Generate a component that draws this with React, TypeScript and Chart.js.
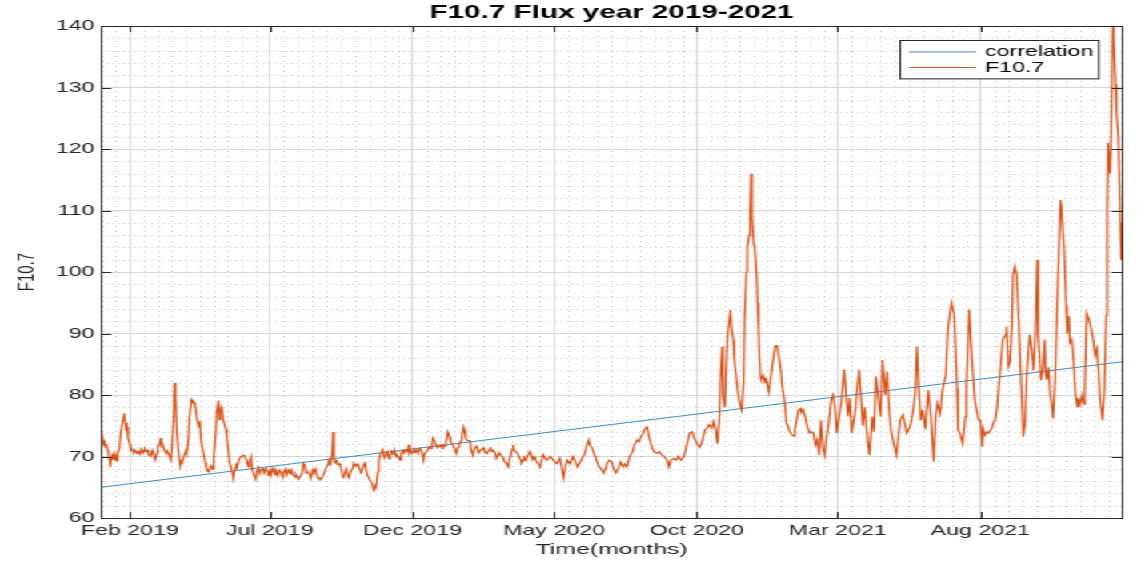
import React, { useEffect, useRef } from 'react';
import { Chart, registerables } from 'chart.js';

Chart.register(...registerables);

// ---------------- data ----------------
// x values are day offsets from 1 Jan 2019
const X_MIN = 0;
const X_MAX = 1095;
const xTickDays = [31, 181, 334, 486, 639, 790, 943];
const xTickLabels = ['Feb 2019', 'Jul 2019', 'Dec 2019', 'May 2020', 'Oct 2020', 'Mar 2021', 'Aug 2021'];
const yTickValues = [60, 70, 80, 90, 100, 110, 120, 130, 140];

const corrDays = [0, 1095];
const corrValues = [65.0, 85.4];

const f107_2019: [number, number][] = [
  [0,75.0],[2,72.5],[3,71.8],[4,72.3],[5,71.5],[6,72.0],[7,71.0],[8,70.8],[10,68.3],[11,69.8],
  [12,70.2],[13,69.5],[14,70.3],[15,69.4],[16,70.0],[17,69.3],[18,70.5],[20,71.5],[21,73.5],[23,75.5],
  [25,77.0],[26,75.5],[27,74.2],[28,74.8],[29,73.0],[31,72.0],[32,71.0],[34,71.2],[35,70.5],[37,71.0],
  [39,70.5],[40,70.8],[42,70.4],[43,71.2],[45,70.6],[47,71.3],[48,70.8],[50,71.0],[51,70.3],[53,70.0],
  [55,71.0],[56,70.6],[58,69.4],[60,70.5],[61,71.8],[63,72.0],[64,73.0],[65,71.5],[66,72.0],[68,71.0],
  [70,70.5],[71,70.9],[73,70.3],[75,69.4],[76,71.0],[78,76.0],[79,82.0],[80,80.0],[81,75.0],[83,71.0],
  [85,68.5],[86,69.2],[87,69.0],[89,70.0],[91,70.9],[92,70.5],[94,73.0],[95,76.5],[97,79.1],[98,78.7],
  [99,79.0],[100,78.8],[101,78.0],[102,77.5],[103,76.0],[105,74.8],[106,75.8],[107,73.5],[108,72.0],[110,70.5],
  [112,69.0],[113,68.0],[115,67.5],[116,67.8],[118,68.5],[120,67.9],[121,70.0],[123,73.5],[124,77.0],[126,79.1],
  [127,76.0],[128,77.0],[129,78.0],[130,77.5],[131,76.0],[132,75.5],[134,74.5],[135,73.0],[137,70.5],[138,69.0],
  [140,68.0],[142,66.4],[143,67.5],[145,68.6],[146,68.2],[148,69.5],[150,70.0],[151,70.0],[153,70.2],[154,70.0],
  [156,69.5],[158,68.3],[159,69.0],[161,70.0],[162,68.0],[164,67.0],[166,66.3],[167,67.5],[169,68.2],[170,67.2],
  [172,67.9],[174,68.0],[175,67.3],[177,68.1],[179,67.5],[180,66.8],[182,67.8],[183,67.2],[185,68.1],[187,67.0],
  [188,67.6],[190,66.9],[191,67.8],[193,67.5],[195,66.6],[196,67.5],[198,68.0],[199,67.0],[201,67.8],[203,67.2],
  [204,68.0],[206,67.0],[208,66.7],[209,67.1],[211,66.5],[212,66.4],[214,66.8],[216,67.5],[217,68.9],[219,68.5],
  [220,67.3],[222,67.5],[224,67.0],[225,66.5],[227,67.8],[228,67.5],[230,68.0],[232,66.8],[233,66.5],[235,66.5],
  [236,66.4],[238,66.8],[240,67.5],[241,68.1],[243,68.5],[245,69.4],[246,68.5],[248,70.5],[249,74.0],[250,70.0],
  [251,69.0],[253,69.3],[254,68.7],[256,68.8],[257,68.5],[259,67.0],[260,66.5],[262,67.5],[263,68.0],[265,66.8],
  [266,66.5],[268,67.6],[270,68.1],[271,68.9],[273,68.4],[275,68.8],[276,68.6],[278,67.8],[279,67.2],[281,68.3],
  [283,68.9],[284,68.0],[286,66.8],[287,66.6],[289,66.0],[291,65.6],[292,64.8],[293,64.3],[294,65.2],[295,65.0],
  [297,67.5],[298,69.4],[300,70.5],[301,70.8],[302,71.1],[304,69.8],[306,70.5],[307,70.8],[309,69.6],[310,70.2],
  [312,70.9],[314,70.3],[315,70.9],[317,70.0],[318,70.2],[321,69.4],[322,70.5],[324,71.0],[325,70.6],[327,71.1],
  [329,70.8],[330,71.9],[331,70.6],[332,71.0],[334,70.5],[336,71.2],[337,70.7],[339,71.0],[340,70.5],[342,71.3],
  [344,70.8],[346,69.4],[347,70.5],[349,70.8],[351,71.2],[352,71.6],[354,71.3],[355,72.0],[356,73.0],[358,72.5],
  [359,71.9],[361,71.4],[362,71.6],[364,71.9],
];

const f107_2020: [number, number][] = [
  [366,71.3],[367,71.9],[369,71.7],[370,72.3],[372,74.0],[374,73.2],[375,72.3],[377,72.0],[379,71.3],[380,71.1],
  [381,70.5],[383,71.5],[384,72.0],[386,72.5],[387,73.3],[389,74.8],[390,74.3],[391,73.0],[393,72.6],[395,72.6],
  [396,72.1],[397,71.0],[399,70.2],[400,71.0],[402,71.6],[403,71.8],[405,70.6],[406,70.9],[408,71.1],[410,71.4],
  [411,71.0],[413,70.7],[414,70.5],[416,71.0],[418,71.4],[419,70.8],[421,71.0],[423,70.5],[424,69.7],[426,70.3],
  [427,70.6],[429,70.2],[431,69.8],[432,69.3],[434,69.0],[435,68.8],[437,68.3],[438,69.5],[440,70.5],[441,71.2],
  [442,71.9],[443,71.0],[445,70.8],[447,70.5],[448,70.0],[450,69.5],[451,68.9],[453,69.4],[454,69.8],[456,69.4],
  [457,70.0],[459,70.5],[460,70.8],[462,70.0],[463,69.5],[465,69.9],[466,69.4],[468,69.0],[470,68.6],[471,68.3],
  [474,70.3],[478,69.4],[482,70.0],[485,69.4],[489,68.8],[492,69.7],[494,68.3],[496,66.5],[498,68.3],[500,69.4],
  [503,68.8],[506,70.0],[508,69.4],[511,68.3],[514,69.1],[517,70.0],[519,70.5],[521,71.9],[523,72.7],[524,71.9],
  [526,71.6],[528,70.8],[530,70.0],[532,69.1],[534,68.4],[537,67.8],[539,67.3],[541,68.1],[542,68.8],[545,69.4],
  [548,69.1],[549,68.3],[552,67.3],[555,68.1],[557,69.1],[560,68.3],[562,68.8],[564,68.3],[567,70.0],[570,70.8],
  [572,71.9],[575,72.7],[577,72.4],[579,73.3],[581,73.6],[583,74.4],[585,74.8],[586,74.4],[588,73.0],[591,71.4],
  [593,70.8],[596,70.5],[599,70.8],[601,70.3],[604,70.0],[607,69.4],[609,68.3],[611,69.4],[614,69.7],[617,69.4],
  [619,70.0],[622,69.4],[625,70.0],[627,71.1],[629,72.4],[631,73.8],[634,74.0],[635,73.5],[637,72.7],[640,71.9],
  [642,71.5],[644,72.1],[646,73.3],[648,74.4],[650,74.6],[652,75.2],[655,74.6],[657,75.7],[659,74.4],[661,72.1],
  [663,76.0],[664,82.0],[666,87.9],[667,80.0],[669,78.0],[670,83.0],[672,90.0],[675,93.8],[676,91.0],[678,89.0],
  [679,86.0],[681,83.0],[683,80.3],[685,78.5],[687,77.6],[689,82.0],[690,92.0],[692,100.0],[693,104.0],[695,106.0],
  [696,110.0],[697,116.0],[698,109.0],[700,104.5],[701,104.0],[703,99.5],[704,95.0],[705,91.0],[706,86.0],[707,83.0],
  [708,82.5],[710,83.2],[712,82.0],[713,82.8],[715,81.3],[716,80.5],[718,82.5],[719,83.8],[721,86.0],[723,88.0],
  [725,88.0],[727,86.0],[729,84.0],[730,82.0],
];

const f107_2021: [number, number][] = [
  [732,80.0],[734,77.5],[735,75.4],[737,74.8],[738,74.2],[741,73.5],[743,73.3],[744,74.5],[746,76.0],[748,77.6],
  [750,77.8],[751,77.2],[753,77.6],[755,76.5],[757,75.0],[760,73.8],[762,74.0],[764,73.8],[766,71.9],[768,72.7],
  [770,70.2],[772,75.9],[774,71.5],[776,70.2],[778,73.0],[780,75.0],[783,79.2],[785,80.0],[787,78.0],[789,73.8],
  [791,76.0],[794,79.0],[797,84.1],[799,80.0],[801,76.5],[803,79.5],[805,73.8],[809,77.5],[810,80.0],[813,84.1],
  [815,79.5],[817,75.0],[819,78.0],[822,72.7],[824,70.2],[827,76.5],[829,74.0],[831,83.0],[834,79.0],[836,76.5],
  [838,85.7],[841,80.0],[843,83.8],[845,78.0],[847,74.5],[850,72.1],[853,70.2],[857,75.9],[860,76.8],[864,73.8],
  [868,75.0],[871,77.6],[873,80.3],[875,87.9],[877,81.0],[879,75.9],[881,77.6],[884,74.4],[887,80.8],[890,76.5],
  [892,71.5],[893,69.2],[895,76.5],[897,78.7],[900,77.0],[902,80.3],[903,81.3],[906,83.3],[908,90.5],[911,94.0],
  [912,95.0],[915,93.0],[918,81.0],[919,74.3],[921,73.8],[924,72.1],[927,76.5],[928,81.3],[931,93.9],[934,85.7],
  [937,79.2],[941,75.9],[943,75.9],[945,71.6],[946,74.5],[948,73.5],[950,74.0],[952,73.8],[953,74.2],[955,74.5],
  [957,75.5],[959,76.0],[961,78.1],[964,83.5],[967,89.0],[970,89.8],[971,91.1],[973,84.6],[975,85.5],[977,92.0],
  [978,99.5],[980,100.9],[982,99.5],[984,92.5],[986,84.5],[988,77.5],[989,73.2],[991,75.5],[993,84.0],[996,89.8],
  [998,87.5],[1000,84.0],[1002,90.0],[1004,102.0],[1005,90.0],[1008,82.4],[1010,84.0],[1012,89.0],[1013,83.5],[1014,82.5],
  [1016,84.5],[1018,80.0],[1020,77.8],[1021,76.2],[1023,82.0],[1026,98.0],[1029,111.7],[1030,110.5],[1033,103.0],[1035,94.5],
  [1036,90.0],[1038,92.8],[1039,88.5],[1041,89.0],[1043,85.5],[1045,80.0],[1047,78.1],[1048,79.5],[1050,78.5],[1052,80.0],
  [1054,78.5],[1055,81.0],[1057,93.3],[1059,92.5],[1061,91.5],[1064,89.0],[1066,86.5],[1068,87.5],[1070,83.5],[1071,80.0],
  [1074,75.9],[1076,81.0],[1078,93.0],[1079,110.0],[1080,121.0],[1082,116.0],[1083,120.0],[1085,140.0],[1086,138.0],[1088,130.5],
  [1089,126.0],[1091,122.0],[1093,108.0],[1094,102.0],
];

// ---------------- layout / style ----------------
const PAGE_W = 1141;
const PAGE_H = 571;
const CANVAS_W = 713; // figure is drawn narrower and stretched horizontally like the reference
const FONT = '"Liberation Sans", Arial, Helvetica, sans-serif';
const AXIS_COLOR = '#262626';

function minorXTicks(): number[] {
  const out: number[] = [];
  const t = xTickDays;
  for (let i = 0; i < t.length - 1; i++) {
    const step = (t[i + 1] - t[i]) / 10;
    for (let k = 1; k < 10; k++) out.push(t[i] + k * step);
  }
  const s0 = (t[1] - t[0]) / 10;
  for (let v = t[0] - s0; v > X_MIN; v -= s0) out.push(v);
  const sL = (t[t.length - 1] - t[t.length - 2]) / 10;
  for (let v = t[t.length - 1] + sL; v < X_MAX; v += sL) out.push(v);
  return out;
}
function minorYTicks(): number[] {
  const out: number[] = [];
  for (let i = 0; i < yTickValues.length - 1; i++) {
    const a = yTickValues[i], b = yTickValues[i + 1];
    const step = (b - a) / 5;
    for (let k = 1; k < 5; k++) out.push(a + k * step);
  }
  return out;
}

const matlabLook = {
  id: 'matlabLook',
  beforeDatasetsDraw(chart: any) {
    const { ctx, chartArea: a, scales } = chart;
    const x = scales.x, y = scales.y;
    ctx.save();
    ctx.beginPath();
    ctx.rect(a.left, a.top, a.right - a.left, a.bottom - a.top);
    ctx.clip();
    ctx.strokeStyle = 'rgba(0,0,0,0.2)';
    ctx.lineWidth = 1;
    ctx.setLineDash([1, 2.5]);
    for (const v of minorYTicks()) {
      const py = Math.round(y.getPixelForValue(v)) + 0.5;
      ctx.beginPath(); ctx.moveTo(a.left, py); ctx.lineTo(a.right, py); ctx.stroke();
    }
    ctx.setLineDash([1, 4]);
    for (const v of minorXTicks()) {
      const px = Math.round(x.getPixelForValue(v)) + 0.5;
      ctx.beginPath(); ctx.moveTo(px, a.top); ctx.lineTo(px, a.bottom); ctx.stroke();
    }
    ctx.restore();
  },
  afterDatasetsDraw(chart: any) {
    const { ctx, chartArea: a, scales } = chart;
    const x = scales.x, y = scales.y;
    ctx.save();
    ctx.strokeStyle = AXIS_COLOR;
    ctx.lineWidth = 1;
    ctx.setLineDash([]);
    // box
    ctx.strokeRect(Math.round(a.left) + 0.5, Math.round(a.top) + 0.5, Math.round(a.right - a.left), Math.round(a.bottom - a.top));
    // inner tick marks
    const tv = 6, th = 6.5;
    for (const d of xTickDays) {
      const px = Math.round(x.getPixelForValue(d)) + 0.5;
      ctx.beginPath(); ctx.moveTo(px, a.bottom); ctx.lineTo(px, a.bottom - tv); ctx.stroke();
      ctx.beginPath(); ctx.moveTo(px, a.top); ctx.lineTo(px, a.top + tv); ctx.stroke();
    }
    for (const v of yTickValues) {
      const py = Math.round(y.getPixelForValue(v)) + 0.5;
      ctx.beginPath(); ctx.moveTo(a.left, py); ctx.lineTo(a.left + th, py); ctx.stroke();
      ctx.beginPath(); ctx.moveTo(a.right, py); ctx.lineTo(a.right - th, py); ctx.stroke();
    }
    // legend
    const fs = 14.5;
    ctx.font = `${fs}px ${FONT}`;
    const sets = chart.data.datasets;
    const tw = Math.max(...sets.map((d: any) => ctx.measureText(d.label).width));
    const padL = 5.5, sample = 42, gap = 5.5, padR = 3.5, rowH = 15.6, padT = 3.6;
    const w = padL + sample + gap + tw + padR;
    const h = padT * 2 + rowH * sets.length;
    const bx = Math.round(a.right - 14.8 - w) + 0.5;
    const by = Math.round(a.top + 14) + 0.5;
    ctx.fillStyle = '#ffffff';
    ctx.fillRect(bx, by, w, h);
    ctx.strokeStyle = AXIS_COLOR;
    ctx.strokeRect(bx, by, w, h);
    sets.forEach((d: any, i: number) => {
      const cy = by + padT + rowH * i + rowH / 2;
      ctx.strokeStyle = d.borderColor;
      ctx.lineWidth = d.borderWidth;
      ctx.beginPath(); ctx.moveTo(bx + padL, cy); ctx.lineTo(bx + padL + sample, cy); ctx.stroke();
      ctx.fillStyle = '#000000';
      ctx.textBaseline = 'middle';
      ctx.textAlign = 'left';
      ctx.fillText(d.label, bx + padL + sample + gap, cy + 0.5);
    });
    ctx.restore();
  },
};

export default function App() {
  const ref = useRef<HTMLCanvasElement | null>(null);

  useEffect(() => {
    if (!ref.current) return;
    const fluxPoints = [...f107_2019, ...f107_2020, ...f107_2021].map(([d, v]) => ({ x: d, y: v }));
    const corrPoints = corrDays.map((d, i) => ({ x: d, y: corrValues[i] }));
    const chart = new Chart(ref.current, {
      type: 'line',
      data: {
        datasets: [
          {
            label: 'correlation',
            data: corrPoints,
            borderColor: '#3a8cc6',
            borderWidth: 1,
            pointRadius: 0,
            tension: 0,
            order: 2,
          },
          {
            label: 'F10.7',
            data: fluxPoints,
            borderColor: '#D95319',
            borderWidth: 1.2,
            pointRadius: 0,
            tension: 0,
            order: 1,
          },
        ],
      },
      options: {
        animation: false,
        responsive: true,
        maintainAspectRatio: false,
        layout: { padding: { left: 0, right: 11.8, top: 0, bottom: 0 } },
        plugins: {
          legend: { display: false },
          tooltip: { enabled: false },
          title: {
            display: true,
            text: 'F10.7 Flux year 2019-2021',
            fullSize: false,
            color: '#000000',
            font: { family: FONT, size: 18.5, weight: 'bold' },
            padding: { top: 1.7, bottom: 2.1 },
          },
        },
        scales: {
          x: {
            type: 'linear',
            min: X_MIN,
            max: X_MAX,
            afterBuildTicks: (scale: any) => {
              scale.ticks = xTickDays.map((value) => ({ value }));
            },
            afterFit: (scale: any) => {
              scale.height = 53;
            },
            ticks: {
              autoSkip: false,
              maxRotation: 0,
              padding: 4.5,
              color: AXIS_COLOR,
              font: { family: FONT, size: 14.5 },
              callback: (value: any) => {
                const i = xTickDays.indexOf(Number(value));
                return i >= 0 ? xTickLabels[i] : '';
              },
            },
            grid: { color: '#d8d8d8', lineWidth: 1, drawTicks: false },
            border: { display: false },
            title: {
              display: true,
              text: 'Time(months)',
              color: AXIS_COLOR,
              font: { family: FONT, size: 15.5 },
              padding: { top: 0, bottom: 11.5 },
            },
          },
          y: {
            type: 'linear',
            min: 60,
            max: 140,
            afterBuildTicks: (scale: any) => {
              scale.ticks = yTickValues.map((value) => ({ value }));
            },
            afterFit: (scale: any) => {
              scale.width = 63.1;
            },
            ticks: {
              padding: 4,
              color: AXIS_COLOR,
              font: { family: FONT, size: 14.5 },
            },
            grid: { color: '#d8d8d8', lineWidth: 1, drawTicks: false },
            border: { display: false },
            title: {
              display: true,
              text: 'F10.7',
              color: AXIS_COLOR,
              font: { family: FONT, size: 15 },
              padding: { top: 7.5, bottom: 0 },
            },
          },
        },
      },
      plugins: [matlabLook],
    });
    return () => chart.destroy();
  }, []);

  return (
    <div
      style={{
        position: 'fixed',
        left: 0,
        top: 0,
        width: CANVAS_W,
        height: PAGE_H,
        background: '#ffffff',
        transform: `scaleX(${PAGE_W / CANVAS_W})`,
        transformOrigin: '0 0',
      }}
    >
      <canvas ref={ref} />
    </div>
  );
}
